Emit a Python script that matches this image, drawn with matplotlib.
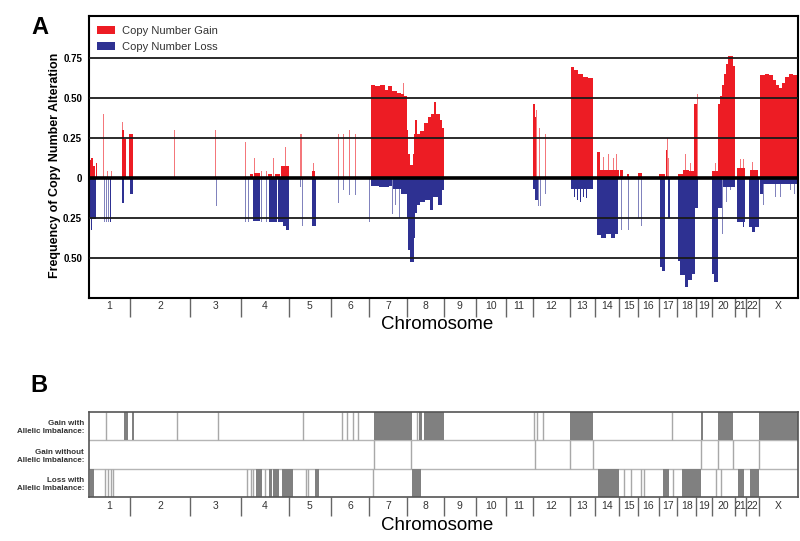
import matplotlib
matplotlib.use("Agg")
import matplotlib.pyplot as plt
import numpy as np

RED, BLUE = "#ED1C24", "#2E3192"
GREY_BLOCK, GREY_LINE = "#808080", "#a8a8a8"
plt.rcParams.update({"font.family": "Liberation Sans"})

# chromosomes and their widths along the genome axis (probe-index units)
chromosomes = [str(i) for i in range(1, 23)] + ["X"]
chrom_size = [41, 60.3, 51, 47.4, 42.3, 38.3, 37.4, 37, 32.3, 29.7, 27, 37.3,
              24.7, 24.6, 18.7, 20.7, 18.6, 19, 15.4, 23.3, 10.7, 13.3, 39]

# copy number gain: (start, end, frequency)
gain = [
    # 1
    (0, 2, 0.11), (2, 4, 0.12), (4, 6, 0.07), (6.5, 7.5, 0.09), (14, 14.8, 0.40),
    (17.5, 18.2, 0.04), (21.7, 22.4, 0.04), (32.5, 33.2, 0.345), (33.2, 34.5, 0.30),
    (34.5, 36.5, 0.24), (40.3, 43.7, 0.27),
    # 2, 3
    (85, 85.8, 0.30), (126.4, 127.2, 0.30),
    # 4
    (155.7, 156.4, 0.22), (161, 164.3, 0.02), (164.7, 165.4, 0.12), (165.4, 171, 0.03),
    (172.3, 173, 0.04), (176.7, 177.4, 0.04), (179, 182.7, 0.02), (184, 184.7, 0.12),
    (185.7, 191, 0.02), (191.5, 196, 0.07), (195.7, 196.4, 0.19), (196.4, 199.7, 0.07),
    # 5
    (210.8, 211.5, 0.27), (212, 212.7, 0.27), (222.7, 226, 0.04), (224, 224.7, 0.09),
    # 6
    (249, 249.7, 0.27), (254, 254.7, 0.27), (260, 260.7, 0.30), (265.7, 266.4, 0.27),
    # 7
    (281.5, 286, 0.58), (286, 291, 0.57), (291, 296, 0.58), (296, 299, 0.55),
    (299, 303, 0.57), (303, 308, 0.54), (308, 312, 0.53), (312, 315, 0.52),
    (314, 314.7, 0.59), (315, 317.7, 0.51),
    # 8
    (317.7, 319, 0.30), (319, 320.5, 0.15), (320.5, 323.5, 0.08), (323.5, 325, 0.15),
    (325, 326, 0.27), (326, 327.5, 0.36), (327.5, 331, 0.27), (331, 335, 0.29),
    (335, 339, 0.34), (339, 342, 0.38), (342, 345, 0.40), (345, 346.5, 0.47),
    (346.5, 351, 0.40), (351, 353, 0.36), (353, 354.7, 0.31),
    # 12
    (443.7, 445.5, 0.46), (445.5, 447.3, 0.38), (447.3, 448.2, 0.42),
    (449.7, 450.4, 0.31), (455.6, 456.3, 0.27),
    # 13
    (482, 484.5, 0.69), (484.5, 488.5, 0.67), (488.5, 493.5, 0.645),
    (493.5, 498.5, 0.63), (498.5, 504.3, 0.62),
    # 14
    (507.7, 510.5, 0.16), (510.5, 530, 0.05), (514, 514.7, 0.13), (519, 519.7, 0.15),
    (524, 524.7, 0.12), (527.3, 528, 0.15),
    # 15, 16
    (531, 533.7, 0.05), (537.5, 539.5, 0.02), (549, 553, 0.03),
    # 17
    (570, 576, 0.02), (576.7, 578.3, 0.17), (577.5, 578.2, 0.25), (579, 579.7, 0.125),
    # 18
    (588.7, 594, 0.02), (594, 600, 0.05), (595.7, 596.4, 0.145), (600, 605, 0.04),
    (600.7, 601.4, 0.09), (605.3, 607.7, 0.46), (607.7, 608.5, 0.52),
    # 20
    (622.7, 629.3, 0.04), (626, 626.7, 0.094), (629.3, 631.3, 0.46), (631.3, 633.3, 0.51),
    (633.3, 634.7, 0.58), (634.7, 636.7, 0.65), (636.7, 638.7, 0.71),
    (638.7, 644.3, 0.76), (644.3, 646, 0.70),
    # 21, 22
    (647.7, 656, 0.06), (650.5, 651.2, 0.115), (654, 654.7, 0.115),
    (661, 669.3, 0.05), (662.5, 663.2, 0.10),
    # X
    (670.5, 676, 0.64), (676, 680, 0.65), (680, 684, 0.64), (684, 687, 0.61),
    (687, 690, 0.58), (690, 693, 0.56), (693, 696, 0.59), (696, 700, 0.63),
    (700, 704, 0.65), (704, 709, 0.64),
]

# copy number loss: (start, end, frequency)
loss = [
    # 1
    (0, 1.5, 0.26), (1.5, 2.5, 0.33), (2.5, 7, 0.26), (14.5, 15.2, 0.28),
    (16.7, 17.4, 0.28), (18.5, 19.2, 0.28), (21, 22, 0.28), (32.7, 35, 0.16),
    (41, 43.7, 0.10),
    # 3
    (126.5, 127.2, 0.18),
    # 4
    (155.7, 156.4, 0.28), (159, 159.7, 0.28), (163.5, 171, 0.27), (172.3, 173, 0.28),
    (177.3, 178, 0.28), (180, 187.7, 0.28), (189, 194.3, 0.28), (194.3, 197, 0.30),
    (197, 200, 0.33),
    # 5
    (210.8, 211.5, 0.06), (213, 213.7, 0.30), (222.7, 227, 0.30),
    # 6
    (249, 249.7, 0.16), (254, 254.7, 0.08), (260, 260.7, 0.11), (265.7, 266.4, 0.11),
    # 7
    (279.8, 280.5, 0.28), (281.5, 290, 0.05), (290, 300, 0.06), (300, 303, 0.05),
    (303, 303.7, 0.23), (306, 306.7, 0.17), (309.7, 310.4, 0.25), (303.7, 312, 0.07),
    (312, 317.7, 0.10),
    # 8
    (317.7, 319, 0.25), (319, 320.5, 0.45), (320.5, 324.5, 0.53), (324.5, 326, 0.38),
    (326, 328, 0.22), (328, 331, 0.17), (331, 336, 0.15), (336, 341, 0.14),
    (341, 344, 0.20), (344, 349, 0.12), (349, 353, 0.17), (353, 354.7, 0.08),
    # 12
    (443.7, 446, 0.07), (446, 448.5, 0.14), (448.5, 449.2, 0.18), (451, 451.7, 0.18),
    (455.7, 456.4, 0.10),
    # 13
    (482, 504.3, 0.07), (485, 486, 0.12), (488, 489, 0.14), (491, 492, 0.15),
    (494, 495, 0.12), (497, 498, 0.13),
    # 14
    (507.7, 512, 0.36), (512, 517, 0.38), (517, 522, 0.35), (522, 526, 0.38),
    (526, 529.3, 0.35),
    # 15, 16
    (532.3, 533, 0.33), (539, 539.7, 0.33), (549, 549.7, 0.25), (551.7, 552.5, 0.30),
    # 17
    (571, 573, 0.56), (573, 576, 0.58), (578.5, 580.5, 0.25),
    # 18
    (588.7, 591, 0.52), (591, 595.7, 0.61), (595.7, 599, 0.68), (599, 602.5, 0.64),
    (602.5, 605.7, 0.60), (605.7, 608.7, 0.19),
    # 20
    (623.3, 625, 0.60), (625, 629.3, 0.65), (629.3, 633.3, 0.19), (633.3, 634, 0.35),
    (634.3, 646, 0.06), (636.5, 637.2, 0.15), (641, 641.7, 0.08),
    # 21, 22
    (647.7, 656, 0.28), (654, 655, 0.31), (660.3, 670, 0.31), (663, 666, 0.34),
    # X
    (670.5, 709, 0.04), (671, 674, 0.10), (673.5, 674.2, 0.17), (686, 686.7, 0.12),
    (691, 691.7, 0.12), (701, 701.7, 0.08), (705, 705.7, 0.10),
]

# panel B: allelic imbalance calls (blocks = (start, end), lines = positions)
gain_ai_blocks = [(35, 38.7), (42.7, 45.3), (285.3, 322.5), (330, 333.3), (334.5, 354.7),
                  (481, 504.3), (612, 614.3), (628.7, 644.3), (670.3, 709)]
gain_ai_lines = [16.5, 87.7, 129.3, 214.3, 253, 258.3, 263.7, 269.3, 328, 445.3,
                 448, 453.7, 583.3]
gain_noai_lines = [285.3, 322, 446, 481, 504.3, 612, 628.7, 644.3, 670.3]
loss_ai_blocks = [(0.5, 5), (167, 172.7), (180.3, 182.7), (183.7, 190), (192.7, 203.7),
                  (226, 230.3), (322.5, 332), (508.7, 530), (574.3, 580.3),
                  (593.3, 612), (648.5, 655.3), (660.7, 670.2)]
loss_ai_lines = [16.3, 19.3, 22, 24.3, 157.7, 162, 164, 176, 217, 219, 283.5, 535,
                 541.5, 552, 555, 584.3, 627, 632]
row_labels = ["Gain with\nAllelic Imbalance:", "Gain without\nAllelic Imbalance:",
              "Loss with\nAllelic Imbalance:"]

edges = np.concatenate([[0], np.cumsum(chrom_size)])
centers = (edges[:-1] + edges[1:]) / 2


def chrom_axis(ax):
    ax.set_xlim(edges[0], edges[-1])
    ax.set_xticks(edges[1:-1])
    ax.set_xticklabels([])
    ax.tick_params(axis="x", which="major", length=13.7, width=1, color="#666666")
    ax.set_xticks(centers, minor=True)
    ax.set_xticklabels(chromosomes, minor=True)
    ax.tick_params(axis="x", which="minor", length=0, pad=2.5, labelsize=7.5,
                   labelcolor="#333333")


def freq_bars(ax, segs, color, sign, label):
    s = np.array(segs)
    w = s[:, 1] - s[:, 0]
    thin = w < 1
    # thin single-probe spikes render lighter in the original
    ax.bar(s[~thin, 0], sign * s[~thin, 2], width=w[~thin], align="edge",
           color=color, linewidth=0, zorder=2, label=label)
    ax.bar(s[thin, 0], sign * s[thin, 2], width=1.0, align="edge",
           color=color, alpha=0.6, linewidth=0, zorder=2)


fig = plt.figure(figsize=(8, 5.41), dpi=100)

# ---- panel A
ax = fig.add_axes([0.11125, 0.4497, 0.88625, 0.5207])
freq_bars(ax, gain, RED, 1, "Copy Number Gain")
freq_bars(ax, loss, BLUE, -1, "Copy Number Loss")
for yv in [0.75, 0.5, 0.25, -0.25, -0.5]:
    ax.axhline(yv, color="#1a1a1a", lw=1.3, zorder=3)
ax.axhline(0, color="black", lw=2.6, zorder=3)
ax.set_ylim(-0.75, 1.01)
ax.set_yticks([0.75, 0.5, 0.25, 0, -0.25, -0.5])
ax.set_yticklabels(["0.75", "0.50", "0.25", "0", "0.25", "0.50"], fontweight="bold")
ax.tick_params(axis="y", length=0, pad=5, labelsize=7)
ax.set_ylabel("Frequency of Copy Number Alteration", fontsize=9, fontweight="bold")
ax.yaxis.set_label_coords(-0.039, 0.47)
for s in ax.spines.values():
    s.set_linewidth(1.5)
chrom_axis(ax)
ax.text(0.491, -0.094, "Chromosome", transform=ax.transAxes, ha="center",
        va="center", fontsize=13.5)
ax.legend(loc="upper left", bbox_to_anchor=(0.0109, 0.966), frameon=False,
          fontsize=8, handlelength=1.62, handleheight=0.72, handletextpad=0.63,
          labelspacing=0.55, borderpad=0, borderaxespad=0, labelcolor="#333333")

# ---- panel B
bx = fig.add_axes([0.11125, 0.0808, 0.88625, 0.1577])
rows = [(2, gain_ai_blocks, gain_ai_lines), (1, [], gain_noai_lines),
        (0, loss_ai_blocks, loss_ai_lines)]
for base, blocks, lines in rows:
    bx.vlines(lines, base, base + 1, color=GREY_LINE, lw=1, zorder=2)
    if blocks:
        b = np.array(blocks)
        bx.bar(b[:, 0], 1, width=b[:, 1] - b[:, 0], bottom=base, align="edge",
               color=GREY_BLOCK, linewidth=0, zorder=2)
for yv in [1, 2]:
    bx.axhline(yv, color="#b5b5b5", lw=1, zorder=1)
bx.set_ylim(0, 3)
bx.set_yticks([2.5, 1.5, 0.5])
bx.set_yticklabels(row_labels, fontsize=5.8, fontweight="bold", color="#333333")
bx.tick_params(axis="y", length=0, pad=3.6)
for s in bx.spines.values():
    s.set_linewidth(1.2)
    s.set_color("#555555")
chrom_axis(bx)
bx.text(0.491, -0.333, "Chromosome", transform=bx.transAxes, ha="center",
        va="center", fontsize=13.5)

fig.text(40 / 800, 1 - 27 / 541, "A", ha="center", va="center", fontsize=17,
         fontweight="bold")
fig.text(39 / 800, 1 - 385 / 541, "B", ha="center", va="center", fontsize=17,
         fontweight="bold")

fig.savefig("out.png", dpi=100)
